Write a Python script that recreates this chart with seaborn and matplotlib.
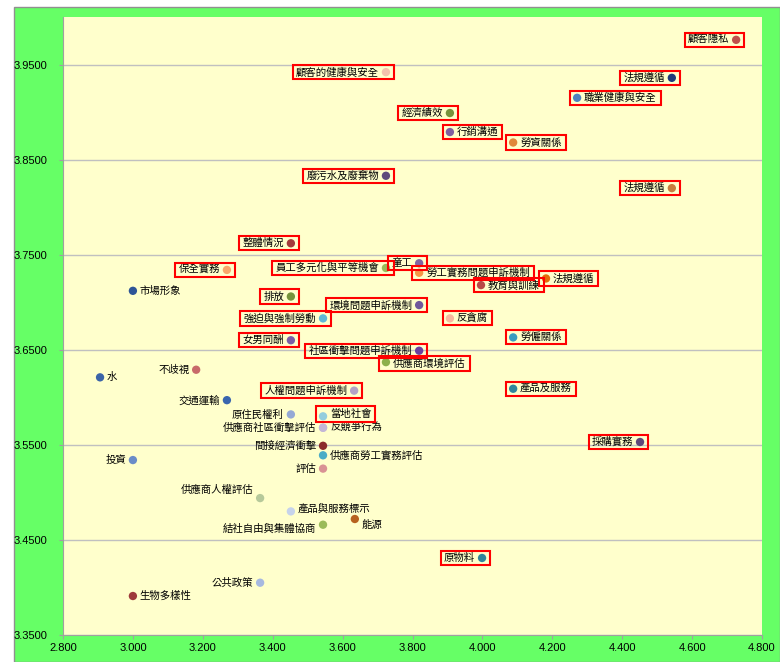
import numpy as np
import matplotlib
matplotlib.use("Agg")
import matplotlib.pyplot as plt
import matplotlib.patches as mpatches
import pandas as pd
import seaborn as sns

# chart data
names = ["顧客隱私", "顧客的健康與安全", "法規遵循", "職業健康與安全", "經濟績效",
         "行銷溝通", "勞資關係", "廢污水及廢棄物", "法規遵循", "整體情況",
         "保全實務", "員工多元化與平等機會", "童工", "勞工實務問題申訴機制", "法規遵循",
         "教育與訓練", "市場形象", "排放", "環境問題申訴機制", "強迫與強制勞動",
         "反貪腐", "勞僱關係", "女男同酬", "社區衝擊問題申訴機制", "供應商環境評估",
         "不歧視", "水", "產品及服務", "交通運輸", "人權問題申訴機制",
         "原住民權利", "當地社會", "反競爭行為", "供應商社區衝擊評估", "採購實務",
         "間接經濟衝擊", "供應商勞工實務評估", "投資", "評估", "供應商人權評估",
         "產品與服務標示", "能源", "結社自由與集體協商", "原物料", "公共政策",
         "生物多樣性"]
x_vals = [4.726, 3.724, 4.542, 4.271, 3.907,
          3.907, 4.088, 3.724, 4.542, 3.452,
          3.269, 3.724, 3.819, 3.819, 4.182,
          3.996, 3.000, 3.452, 3.819, 3.544,
          3.907, 4.088, 3.452, 3.819, 3.724,
          3.181, 2.906, 4.088, 3.269, 3.633,
          3.452, 3.544, 3.544, 3.544, 4.451,
          3.544, 3.544, 3.000, 3.544, 3.364,
          3.452, 3.635, 3.544, 3.999, 3.364,
          3.000]
y_vals = [3.976, 3.942, 3.936, 3.915, 3.899,
          3.879, 3.868, 3.833, 3.820, 3.762,
          3.734, 3.736, 3.741, 3.731, 3.725,
          3.718, 3.712, 3.706, 3.697, 3.683,
          3.683, 3.663, 3.660, 3.649, 3.637,
          3.629, 3.621, 3.609, 3.597, 3.607,
          3.582, 3.580, 3.568, 3.568, 3.553,
          3.549, 3.539, 3.534, 3.525, 3.494,
          3.480, 3.472, 3.466, 3.431, 3.405,
          3.391]
colors = ["#C0504D", "#F4C2AC", "#1F3A7A", "#4F81BD", "#77933C",
          "#7F60A0", "#E0883A", "#604A7B", "#C87D3E", "#A33B3B",
          "#F9A76A", "#9BBB59", "#8064A2", "#F79646", "#E46C0A",
          "#B94A48", "#2E5597", "#77933C", "#71589B", "#5FB7D6",
          "#F8B8A0", "#3A9BBF", "#7B5EA7", "#6A3FA0", "#8DB04A",
          "#C86A6A", "#3B64A8", "#31859C", "#3A66AE", "#B3A2C7",
          "#95A9D5", "#93CDDD", "#C3B7D7", "#C3B7D7", "#5F497A",
          "#8B2B2B", "#4BACC6", "#6A8CC8", "#D99294", "#B6C99A",
          "#C6D3EB", "#B7621F", "#9BBB59", "#31849B", "#A7B9E0",
          "#9E3A3A"]
x_ticks = [2.8, 3.0, 3.2, 3.4, 3.6, 3.8, 4.0, 4.2, 4.4, 4.6, 4.8]
y_ticks = [3.35, 3.45, 3.55, 3.65, 3.75, 3.85, 3.95]

# label layout: side (l/r), red box, vertical nudge in points
side = ["l", "l", "l", "r", "l", "r", "r", "l", "l", "l",
        "l", "l", "l", "r", "r", "r", "r", "l", "l", "l",
        "r", "r", "l", "l", "r", "l", "r", "r", "l", "l",
        "l", "r", "r", "l", "l", "l", "r", "l", "l", "l",
        "r", "r", "l", "l", "l", "r"]
boxed = [1, 1, 1, 1, 1, 1, 1, 1, 1, 1,
         1, 1, 1, 1, 1, 1, 0, 1, 1, 1,
         1, 1, 1, 1, 1, 0, 0, 1, 0, 1,
         0, 1, 0, 0, 1, 0, 0, 0, 0, 0,
         0, 0, 0, 1, 0, 0]
nudge = {39: 6, 40: 2, 41: -4, 42: -3, 31: 2, 24: -1}

df = pd.DataFrame({"name": names, "x": x_vals, "y": y_vals,
                   "id": [f"p{i}" for i in range(len(names))]})

fig = plt.figure(figsize=(7.8, 6.62), dpi=100, facecolor="white")
# green frame behind the plot area
bg = mpatches.Rectangle((14 / 780, 0), 1 - 14 / 780, 655 / 662, transform=fig.transFigure,
                        facecolor="#66FF66", edgecolor="#909090", lw=1, zorder=-1)
fig.add_artist(bg)

ax = fig.add_axes([63 / 780, 27 / 662, 699 / 780, 618 / 662])
ax.set_facecolor("#FFFFCC")

sns.scatterplot(data=df, x="x", y="y", hue="id", palette=colors, s=36,
                edgecolor="none", legend=False, ax=ax, zorder=3)

ax.set_xlim(2.8, 4.8)
ax.set_ylim(3.35, 4.0)
ax.set_xticks(x_ticks)
ax.set_yticks(y_ticks)
ax.set_xticklabels([f"{v:.3f}" for v in x_ticks], fontsize=8, family="Liberation Sans")
ax.set_yticklabels([f"{v:.4f}" for v in y_ticks], fontsize=8, family="Liberation Sans")
ax.set_xlabel("")
ax.set_ylabel("")
ax.grid(axis="y", color="#C0C0C0", lw=1)
ax.set_axisbelow(True)
for s in ["top", "right"]:
    ax.spines[s].set_visible(False)
for s in ["left", "bottom"]:
    ax.spines[s].set_color("#A0A0A0")
ax.tick_params(axis="both", color="#A0A0A0", length=3, pad=3)
ax.tick_params(axis="y", pad=8)

texts = []
for i, row in df.iterrows():
    dx = -5 if side[i] == "l" else 5
    t = ax.annotate(row["name"], (row["x"], row["y"]), xytext=(dx, nudge.get(i, 0)),
                    textcoords="offset points", ha="right" if side[i] == "l" else "left",
                    va="center", fontsize=7.5, family=["Noto Sans CJK TC", "DejaVu Sans"],
                    color="black", zorder=4)
    texts.append(t)

# red boxes around label + marker
fig.canvas.draw()
renderer = fig.canvas.get_renderer()
inv = fig.transFigure.inverted()
for i, t in enumerate(texts):
    if not boxed[i]:
        continue
    tb = t.get_window_extent(renderer)
    px, py = ax.transData.transform((x_vals[i], y_vals[i]))
    x0 = min(tb.x0, px - 4) - 3
    x1 = max(tb.x1, px + 4) + 4
    y0 = min(tb.y0, py - 4) - 2
    y1 = max(tb.y1, py + 4) + 2
    (fx0, fy0), (fx1, fy1) = inv.transform([(x0, y0), (x1, y1)])
    rect = mpatches.Rectangle((fx0, fy0), fx1 - fx0, fy1 - fy0, transform=fig.transFigure,
                              facecolor="none", edgecolor="#FF0000", lw=1.5, zorder=5)
    fig.add_artist(rect)

fig.savefig("out.png", dpi=100, facecolor=fig.get_facecolor())
